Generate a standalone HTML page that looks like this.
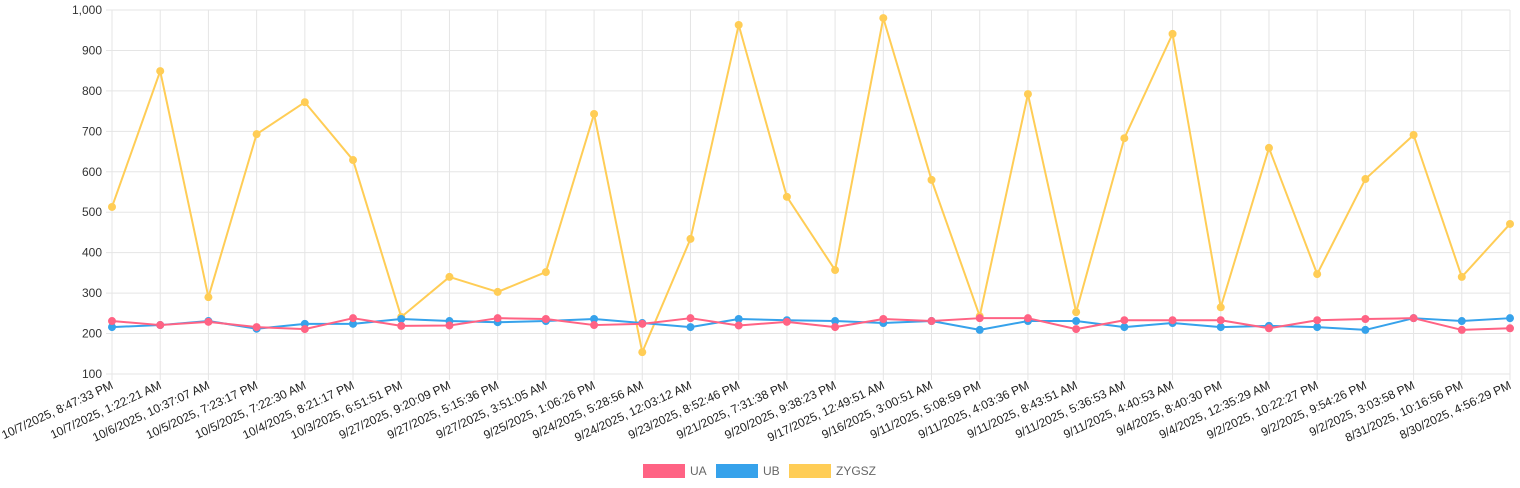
<!DOCTYPE html>
<html><head><meta charset="utf-8"><style>
body{margin:0;background:#fff;}
svg{display:block;font-family:"Liberation Sans",sans-serif;}
</style></head><body>
<svg id="chart" width="1520" height="488"></svg>
<script>
const categories=["10/7/2025, 8:47:33 PM","10/7/2025, 1:22:21 AM","10/6/2025, 10:37:07 AM","10/5/2025, 7:23:17 PM","10/5/2025, 7:22:30 AM","10/4/2025, 8:21:17 PM","10/3/2025, 6:51:51 PM","9/27/2025, 9:20:09 PM","9/27/2025, 5:15:36 PM","9/27/2025, 3:51:05 AM","9/25/2025, 1:06:26 PM","9/24/2025, 5:28:56 AM","9/24/2025, 12:03:12 AM","9/23/2025, 8:52:46 PM","9/21/2025, 7:31:38 PM","9/20/2025, 9:38:23 PM","9/17/2025, 12:49:51 AM","9/16/2025, 3:00:51 AM","9/11/2025, 5:08:59 PM","9/11/2025, 4:03:36 PM","9/11/2025, 8:43:51 AM","9/11/2025, 5:36:53 AM","9/11/2025, 4:40:53 AM","9/4/2025, 8:40:30 PM","9/4/2025, 12:35:29 AM","9/2/2025, 10:22:27 PM","9/2/2025, 9:54:26 PM","9/2/2025, 3:03:58 PM","8/31/2025, 10:16:56 PM","8/30/2025, 4:56:29 PM"];
const uaValues=[231,221,229,216,211,238,219,220,238,236,221,224,238,220,229,216,236,231,238,238,211,233,233,233,213,233,236,238,209,213];
const ubValues=[216,221,231,212,224,224,236,231,228,231,236,226,216,236,233,231,226,231,209,231,231,216,226,216,219,216,209,238,231,238];
const zygszValues=[513,849,290,693,772,629,241,340,303,352,743,154,434,963,538,357,980,580,243,792,253,683,941,265,659,347,582,691,340,471];
const yTicks=[100,200,300,400,500,600,700,800,900,1000];
const yTickLabels=["100","200","300","400","500","600","700","800","900","1,000"];

const NS="http://www.w3.org/2000/svg";
const svg=document.getElementById('chart');
const L=112,R=1510,T=10,B=374;
const x=i=>L+i*(R-L)/(categories.length-1);
const y=v=>B-(v-100)/900*(B-T);
function mk(t,a){const e=document.createElementNS(NS,t);for(const k in a)e.setAttribute(k,a[k]);svg.appendChild(e);return e;}
yTicks.forEach((v,i)=>{
  const g=mk('line',{x1:L-6,x2:R,y1:y(v),y2:y(v),stroke:'#e5e5e5','stroke-width':1});
  
  
  const t=mk('text',{x:L-10,y:y(v)+4,'text-anchor':'end','font-size':12,fill:'#333'});
  t.textContent=yTickLabels[i];
  
  
});
categories.forEach((c,i)=>{
  const g=mk('line',{x1:x(i),x2:x(i),y1:T,y2:B+6,stroke:'#e5e5e5','stroke-width':1});
  
  
  const t=mk('text',{x:x(i)+2,y:B+14,'text-anchor':'end','font-size':12,fill:'#222',transform:`rotate(-25 ${x(i)+2} ${B+14})`});
  t.textContent=c;
  
  
});
const series=[["ua",uaValues,"#ff6384"],["ub",ubValues,"#36a2eb"],["zygsz",zygszValues,"#ffcd56"]];
series.slice().reverse().forEach(([n,vals,col])=>{
  const p=mk('polyline',{points:vals.map((v,i)=>x(i)+','+y(v)).join(' '),fill:'none',stroke:col,'stroke-width':2,'stroke-linejoin':'round'});
  
  
  vals.forEach((v,i)=>{
    const c=mk('circle',{cx:x(i),cy:y(v),r:4,fill:col});
    
    
  });
});
const leg=[["UA","#ff6384",643,690],["UB","#36a2eb",716,763],["ZYGSZ","#ffcd56",789,836]];
leg.forEach(([n,col,bx,tx])=>{
  const r=mk('rect',{x:bx,y:464,width:42,height:14,fill:col});
  
  
  const t=mk('text',{x:tx,y:475,'font-size':12,fill:'#666'});
  t.textContent=n;
  
  
});
</script>
</body></html>
